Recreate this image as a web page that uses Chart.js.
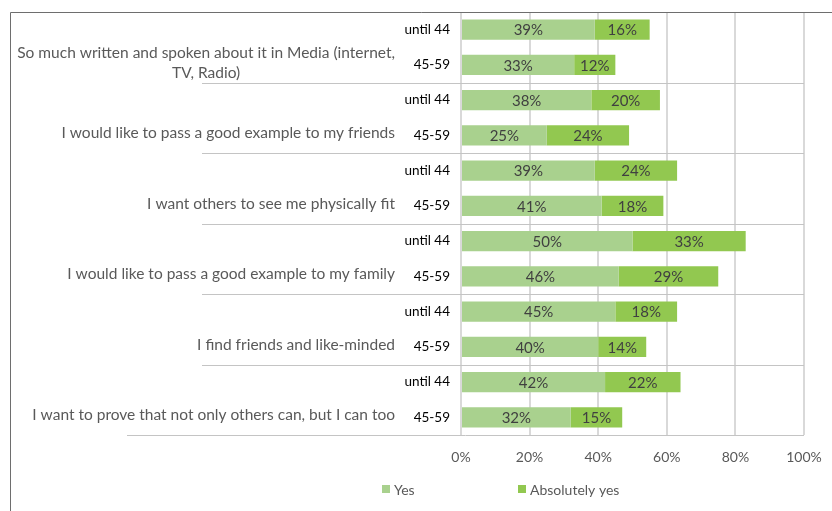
<!DOCTYPE html>
<html>
<head>
<meta charset="utf-8">
<script src="https://cdn.jsdelivr.net/npm/chart.js"></script>
<style>
  body { margin: 0; background: #fff; }
  #wrap { width: 832px; height: 511px; }
</style>
</head>
<body>
<div id="wrap"><canvas id="motivesChart" width="832" height="511"></canvas></div>
<script>
// age bands, two bars per statement
const ageBands = ["until 44", "45-59", "until 44", "45-59", "until 44", "45-59",
  "until 44", "45-59", "until 44", "45-59", "until 44", "45-59"];

// statements, one per pair of bars (wrapped lines as arrays)
const statements = [
  ["So much written and spoken about it in Media (internet,", "TV, Radio)"],
  ["I would like to pass a good example to my friends"],
  ["I want others to see me physically fit"],
  ["I would like to pass a good example to my family"],
  ["I find friends and like-minded"],
  ["I want to prove that not only others can, but I can too"],
];

const yesValues = [39, 33, 38, 25, 39, 41, 50, 46, 45, 40, 42, 32];
const absolutelyYesValues = [16, 12, 20, 24, 24, 18, 33, 29, 18, 14, 22, 15];

const seriesNames = ["Yes", "Absolutely yes"];
const seriesColors = ["#a9d18e", "#92c850"];

const FONT = "Lato, 'Open Sans', sans-serif";

// labels, separators, frame and legend drawn on top of the chart
const overlay = {
  id: "overlay",
  beforeDatasetsDraw(chart) {
    const { ctx, chartArea, scales } = chart;
    const y = scales.y;
    ctx.save();
    ctx.strokeStyle = "#c4c4c4";
    ctx.lineWidth = 1;
    for (let g = 1; g < statements.length; g++) {
      const yy = Math.round((y.getPixelForValue(2 * g - 1) + y.getPixelForValue(2 * g)) / 2) + 0.5;
      ctx.beginPath();
      ctx.moveTo(202, yy);
      ctx.lineTo(chartArea.right, yy);
      ctx.stroke();
    }
    const yb = Math.round(chartArea.bottom) + 0.5;
    ctx.beginPath();
    ctx.moveTo(127, yb);
    ctx.lineTo(chartArea.right, yb);
    ctx.stroke();
    ctx.restore();
  },
  afterDatasetsDraw(chart) {
    const { ctx } = chart;
    ctx.save();
    ctx.font = "15px " + FONT;
    ctx.fillStyle = "#404040";
    ctx.textAlign = "center";
    ctx.textBaseline = "middle";
    chart.data.datasets.forEach((ds, i) => {
      chart.getDatasetMeta(i).data.forEach((bar, j) => {
        ctx.fillText(ds.data[j] + "%", (bar.x + bar.base) / 2, bar.y + 1);
      });
    });
    ctx.restore();
  },
  afterDraw(chart) {
    const { ctx, scales } = chart;
    const y = scales.y;
    ctx.save();

    // statement labels, level with the second bar of each pair
    ctx.font = "15.5px " + FONT;
    ctx.fillStyle = "#595959";
    ctx.textAlign = "center";
    ctx.textBaseline = "middle";
    const rightEdge = 395;
    const lineHeight = 20;
    statements.forEach((lines, g) => {
      const widest = Math.max(...lines.map(l => ctx.measureText(l).width));
      const cx = rightEdge - widest / 2;
      const cy = y.getPixelForValue(2 * g + 1) - 2;
      const top = cy - (lines.length - 1) * lineHeight / 2;
      lines.forEach((l, k) => ctx.fillText(l, cx, top + k * lineHeight));
    });

    // outer frame
    ctx.strokeStyle = "#6e6e6e";
    ctx.lineWidth = 1;
    ctx.beginPath();
    ctx.moveTo(10.5, 511);
    ctx.lineTo(10.5, 12.5);
    ctx.lineTo(832, 12.5);
    ctx.stroke();

    // legend
    const legendX = [382, 518];
    ctx.font = "14px " + FONT;
    ctx.textAlign = "left";
    seriesNames.forEach((name, i) => {
      ctx.fillStyle = seriesColors[i];
      ctx.fillRect(legendX[i], 485, 8, 8);
      ctx.fillStyle = "#595959";
      ctx.fillText(name, legendX[i] + 12, 490);
    });
    ctx.restore();
  },
};

new Chart(document.getElementById("motivesChart"), {
  type: "bar",
  data: {
    labels: ageBands,
    datasets: [
      { label: seriesNames[0], data: yesValues, backgroundColor: seriesColors[0] },
      { label: seriesNames[1], data: absolutelyYesValues, backgroundColor: seriesColors[1] },
    ],
  },
  options: {
    responsive: false,
    animation: false,
    indexAxis: "y",
    layout: { padding: { top: 12, right: 28, left: 0, bottom: 0 } },
    datasets: { bar: { categoryPercentage: 1, barPercentage: 0.58 } },
    plugins: {
      legend: { display: false },
      tooltip: { enabled: false },
    },
    scales: {
      x: {
        stacked: true,
        min: 0,
        max: 100,
        ticks: {
          stepSize: 20,
          padding: 8,
          color: "#595959",
          font: { family: FONT, size: 14 },
          callback: (v) => v + "%",
        },
        grid: {
          color: "#d9d9d9",
          lineWidth: 2,
          drawTicks: true,
          tickLength: 6,
          tickColor: "rgba(0,0,0,0)",
        },
        border: { display: false },
        afterFit: (scale) => { scale.height = 76; },
      },
      y: {
        stacked: true,
        ticks: {
          padding: 3,
          color: "#000000",
          font: { family: FONT, size: 13.5 },
        },
        grid: { display: false },
        border: { display: false },
        afterFit: (scale) => { scale.width = 461; },
      },
    },
  },
  plugins: [overlay],
});
</script>
</body>
</html>
